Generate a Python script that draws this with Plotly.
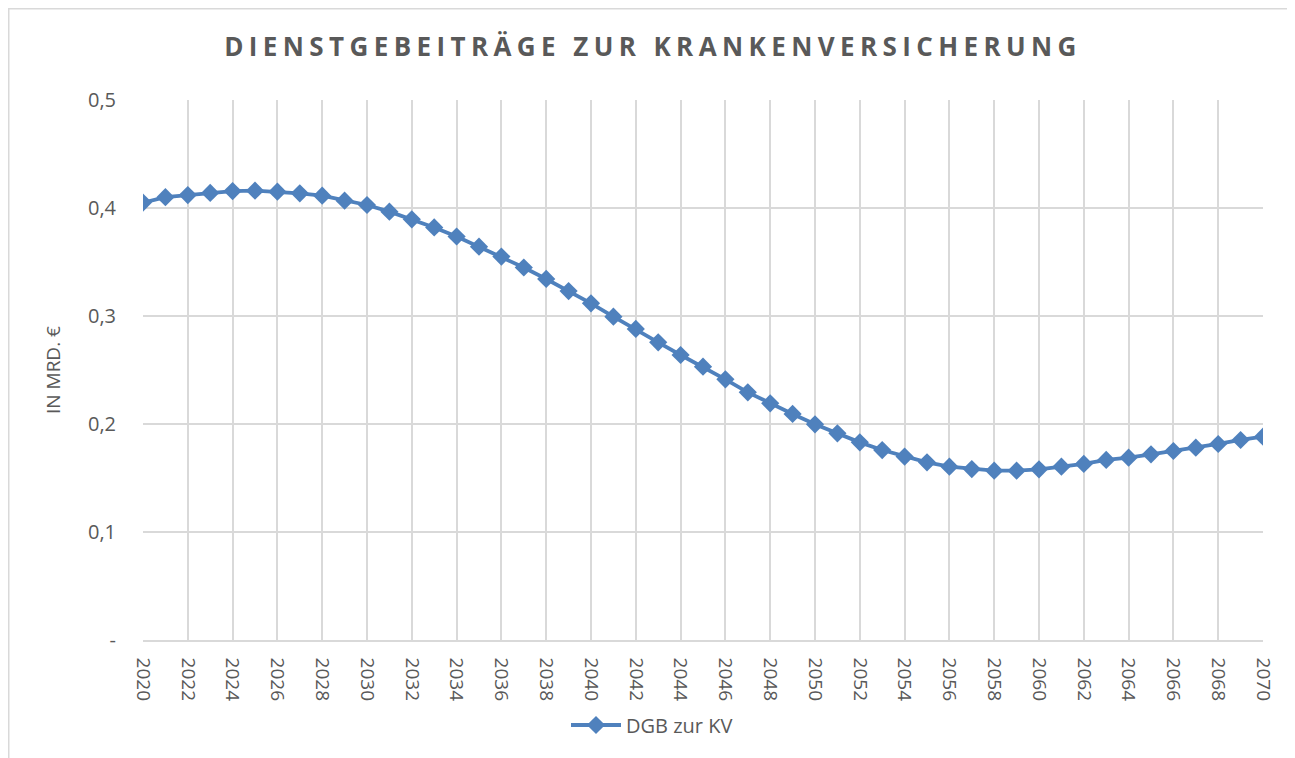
import plotly.graph_objects as go

years = list(range(2020, 2071))
dgb_kv = [0.405, 0.410, 0.412, 0.414, 0.4157, 0.416, 0.4151, 0.4136, 0.4114, 0.4068,
          0.4028, 0.3966, 0.3895, 0.382, 0.3736, 0.3642, 0.3550, 0.3449, 0.3343, 0.3231,
          0.3117, 0.2994, 0.288, 0.2756, 0.2639, 0.2531, 0.2414, 0.2293, 0.2191, 0.2093,
          0.1997, 0.1914, 0.183, 0.1759, 0.1698, 0.1645, 0.1605, 0.1583, 0.1568, 0.1568,
          0.158, 0.1605, 0.163, 0.1667, 0.1688, 0.1719, 0.175, 0.1781, 0.1815, 0.1852,
          0.1883]
x_ticks = list(range(2020, 2071, 2))
y_tickvals = [0, 0.1, 0.2, 0.3, 0.4, 0.5]
y_ticktext = ["-", "0,1", "0,2", "0,3", "0,4", "0,5"]

title_text = "DIENSTGEBEITRÄGE ZUR KRANKENVERSICHERUNG"
series_name = "DGB zur KV"
y_title = "IN MRD. €"

FONT = "Open Sans"
GRAY = "#595959"
BLUE = "#4F81BD"
GRID = "#D9D9D9"

# page body has an 8px margin; lay out in window coordinates minus that offset
OFF = 8
WIN_W, WIN_H = 1295, 758
W, H = WIN_W - OFF, WIN_H - OFF
PL, PR, PT, PB = 143, 1263, 100, 640  # plot area in window coordinates
L, T = PL - OFF, PT - OFF
R, B = W - (PR - OFF), H - (PB - OFF)
pw, ph = W - L - R, H - T - B


def px(x):
    return (x - PL) / pw


def py(y):
    return (PB - y) / ph


fig = go.Figure()
fig.add_trace(go.Scatter(
    x=years, y=dgb_kv, name=series_name, mode="lines+markers",
    line=dict(color=BLUE, width=3.8),
    marker=dict(symbol="diamond", size=14, color=BLUE),
))

fig.update_layout(
    width=W, height=H,
    margin=dict(l=L, r=R, t=T, b=B),
    paper_bgcolor="white", plot_bgcolor="white",
    separators=",.",
    font=dict(family=FONT, color=GRAY, size=16),
    title=dict(
        text='<span style="letter-spacing:5.4px">' + title_text + '</span>',
        x=px(653), xanchor="center", xref="paper",
        y=1 - (47 - OFF) / H, yanchor="middle",
        font=dict(family=FONT, size=26, color=GRAY, weight="bold"),
    ),
    showlegend=True,
    legend=dict(
        orientation="h", x=px(566), xanchor="left", y=py(725), yanchor="middle",
        font=dict(family=FONT, size=20, color=GRAY), itemwidth=50,
    ),
    xaxis=dict(
        range=[2020, 2070], tickvals=x_ticks, ticktext=[str(v) for v in x_ticks],
        tickangle=90, showgrid=True, gridcolor=GRID, gridwidth=1.5,
        showline=True, linecolor=GRID, linewidth=1.5,
        ticks="", ticklabelstandoff=12,
        tickfont=dict(family=FONT, size=19, color=GRAY),
        zeroline=False, fixedrange=True,
    ),
    yaxis=dict(
        range=[0, 0.5], tickvals=y_tickvals, ticktext=y_ticktext,
        showgrid=True, gridcolor=GRID, gridwidth=1.5,
        showline=False, zeroline=False, ticks="", ticklabelstandoff=26,
        tickfont=dict(family=FONT, size=20, color=GRAY),
        title=dict(text=y_title, font=dict(family=FONT, size=19, color=GRAY), standoff=22),
        fixedrange=True,
    ),
    shapes=[dict(
        type="rect", xref="paper", yref="paper",
        x0=px(8.75), x1=px(1292.5), y0=py(775), y1=py(8.75),
        line=dict(color=GRID, width=1.5), fillcolor="rgba(0,0,0,0)", layer="below",
    )],
)

fig.write_html("out.html")
